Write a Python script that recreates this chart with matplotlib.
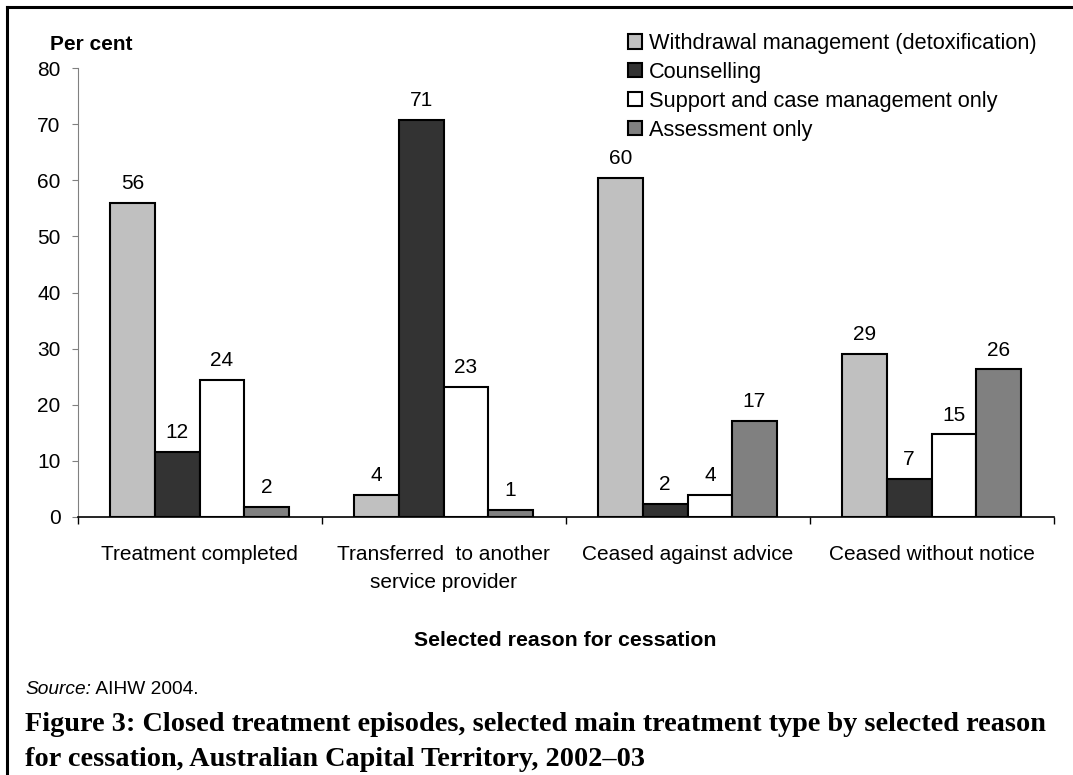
import matplotlib
matplotlib.use("Agg")
import matplotlib.pyplot as plt
from matplotlib.patches import Patch
from matplotlib.lines import Line2D
import numpy as np

# reasons for cessation and per cent of closed episodes by treatment type
reasons = ['Treatment completed', 'Transferred  to another\nservice provider',
           'Ceased against advice', 'Ceased without notice']
series_names = ['Withdrawal management (detoxification)', 'Counselling',
                'Support and case management only', 'Assessment only']
withdrawal = [56.0, 4.0, 60.4, 29.0]
counselling = [11.6, 70.7, 2.3, 6.8]
support = [24.4, 23.2, 3.9, 14.7]
assessment = [1.8, 1.3, 17.1, 26.3]
yticks = [0, 10, 20, 30, 40, 50, 60, 70, 80]

colors = ['#c0c0c0', '#333333', '#ffffff', '#808080']

plt.rcParams['font.family'] = ['Liberation Sans', 'DejaVu Sans']

W, H = 1073, 775
fig = plt.figure(figsize=(W / 100, H / 100), dpi=100)
ax = fig.add_axes([77.5 / W, 1 - 517 / H, (1053.5 - 77.5) / W, (517 - 68) / H])

x = np.arange(len(reasons))
bw = 0.183
all_series = [withdrawal, counselling, support, assessment]
for i, vals in enumerate(all_series):
    pos = x + (i - 1.5) * bw
    bars = ax.bar(pos, vals, bw, color=colors[i], edgecolor='black', linewidth=1.5,
                  label=series_names[i], zorder=3)
    for b, v in zip(bars, vals):
        ax.annotate(f'{v:.0f}', (b.get_x() + b.get_width() / 2, v),
                    xytext=(0, 10), textcoords='offset points',
                    ha='center', va='baseline', fontsize=15)

ax.set_xlim(-0.5, len(reasons) - 0.5)
ax.set_ylim(0, 80)
ax.set_yticks(yticks)
ax.tick_params(axis='y', labelsize=15, length=4.3, width=0.8, color='#808080', pad=8)

# boundaries get the tick marks, centres get the labels
ax.set_xticks(np.arange(len(reasons) + 1) - 0.5)
ax.set_xticklabels([])
ax.set_xticks(x, minor=True)
ax.set_xticklabels(reasons, minor=True, fontsize=15, linespacing=1.62)
ax.tick_params(axis='x', which='major', length=5, width=1, color='black')
ax.tick_params(axis='x', which='minor', length=0, pad=20)

for s in ['top', 'right']:
    ax.spines[s].set_visible(False)
ax.spines['left'].set_color('#808080')
ax.spines['left'].set_linewidth(0.8)
ax.spines['bottom'].set_linewidth(1.2)

handles = [Patch(facecolor=c, edgecolor='black', linewidth=1.5) for c in colors]
fig.legend(handles, series_names, loc='upper left',
           bbox_to_anchor=(628 / W, 1 - 33 / H), frameon=False, fontsize=15.7,
           borderpad=0, borderaxespad=0, handlelength=0.64, handleheight=0.64,
           handletextpad=0.32, labelspacing=0.36)

fig.text(50 / W, 1 - 45 / H, 'Per cent', fontsize=15, fontweight='bold', va='center')
fig.text((77.5 + 1053.5) / 2 / W, 1 - 640 / H, 'Selected reason for cessation',
         fontsize=15.3, fontweight='bold', ha='center', va='center')

src = fig.text(25 / W, 1 - 690 / H, 'Source:', fontsize=13.8, style='italic', va='center')
fig.canvas.draw()
bb = src.get_window_extent()
fig.text(bb.x1 / W, 1 - 690 / H, ' AIHW 2004.', fontsize=13.8, va='center')

fig.text(25 / W, 1 - 731 / H,
         'Figure 3: Closed treatment episodes, selected main treatment type by selected reason',
         fontsize=20.3, fontweight='bold', family='Liberation Serif', va='baseline')
fig.text(25 / W, 1 - 766 / H,
         'for cessation, Australian Capital Territory, 2002\u201303',
         fontsize=20.3, fontweight='bold', family='Liberation Serif', va='baseline')

# frame on the left and top edges
fig.add_artist(Line2D([7 / W, 7 / W], [0, 1 - 7 / H], transform=fig.transFigure,
                      color='black', linewidth=2.2))
fig.add_artist(Line2D([7 / W, 1], [1 - 7 / H, 1 - 7 / H], transform=fig.transFigure,
                      color='black', linewidth=2.2))

fig.savefig('out.png', dpi=100)
